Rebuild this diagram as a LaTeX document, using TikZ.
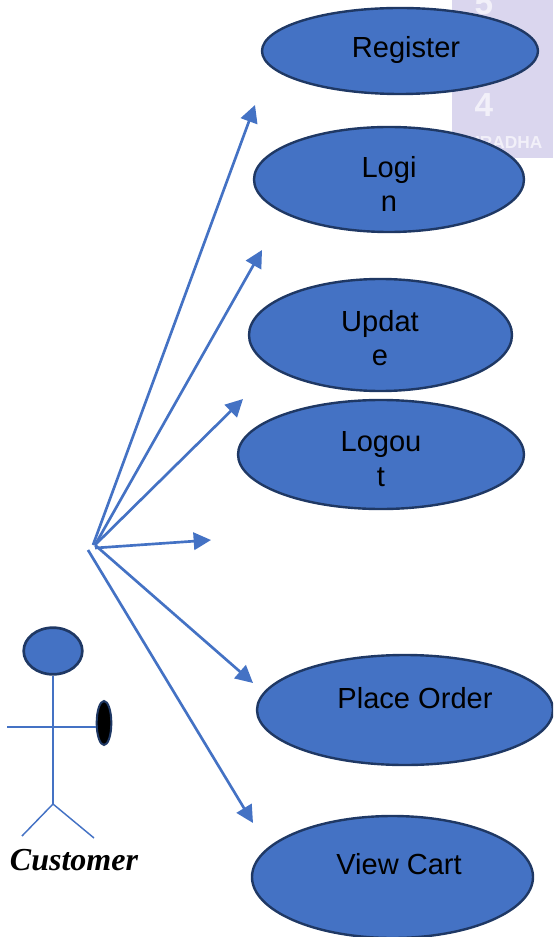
\documentclass[tikz,border=0pt]{standalone}
\usepackage{fontspec}
\setmainfont{Liberation Sans}
\newfontfamily\serifface{Liberation Serif}
\usetikzlibrary{shapes.geometric,arrows.meta}
\definecolor{ublue}{HTML}{4472C4}
\definecolor{uedge}{HTML}{1F3864}
\definecolor{wmark}{HTML}{DAD6EE}
\tikzset{
  x=0.75pt,y=-0.75pt,
  usecase/.style={ellipse,draw=uedge,fill=ublue,line width=1.8pt,inner sep=0pt},
  caption/.style={font=\fontsize{21.8}{26}\selectfont,align=center,text=black,inner sep=0pt},
  assoc/.style={draw=ublue,line width=2pt,-{Triangle[length=13pt,width=13pt]}},
  limb/.style={draw=ublue,line width=1.1pt},
  wtext/.style={text=white,inner sep=0pt,opacity=0.65}
}
\begin{document}
\begin{tikzpicture}
\useasboundingbox (0,0) rectangle (553,937);
\clip (0,0) rectangle (553,937);
% faded background picture
\fill[wmark] (452,0) rectangle (553,158);
\node[wtext,font=\bfseries\fontsize{25}{25}\selectfont] (wfive) at (484,3) {5};
\node[wtext,font=\bfseries\fontsize{25}{25}\selectfont] (wfour) at (484,105) {4};
\node[wtext,font=\bfseries\fontsize{13}{13}\selectfont,anchor=west] (wname) at (467,143) {URADHA};
% use cases
\node[usecase,minimum width=207pt,minimum height=64.5pt] (register) at (400,51) {};
\node[usecase,minimum width=202.5pt,minimum height=78.75pt] (login) at (389,179.5) {};
\node[usecase,minimum width=197.25pt,minimum height=84pt] (update) at (380.5,335) {};
\node[usecase,minimum width=214.5pt,minimum height=81.75pt] (logout) at (381,454.5) {};
\node[usecase,minimum width=222pt,minimum height=82.5pt] (order) at (405,710) {};
\node[usecase,minimum width=210.75pt,minimum height=91.5pt] (cart) at (392.5,877) {};
\node[caption] (registerT) at (406,50) {Register};
\node[caption] (loginT) at (389,184) {Logi\\n};
\node[caption] (updateT) at (380,338) {Updat\\e};
\node[caption] (logoutT) at (381,459) {Logou\\t};
\node[caption] (orderT) at (415,698) {Place Order};
\node[caption] (cartT) at (399,864) {View Cart};
% actor
\node[usecase,line width=2pt,minimum width=44pt,minimum height=35pt] (head) at (53,651) {};
\node[ellipse,draw=uedge,fill=black,line width=1.5pt,inner sep=0pt,minimum width=11pt,minimum height=33pt] (hand) at (104,723) {};
\coordinate (hip) at (53,804);
\coordinate (shoulderL) at (7,727);
\coordinate (footL) at (22,836);
\coordinate (footR) at (94,838);
\draw[limb] (head.south) -- (hip);
\draw[limb] (shoulderL) -- (hand.west |- shoulderL);
\draw[limb] (hip) -- (footL);
\draw[limb] (hip) -- (footR);
\node[font=\serifface\bfseries\itshape\fontsize{24}{28}\selectfont,inner sep=0pt,text=black] (customer) at (74,860) {Customer};
% connectors
\coordinate (o1) at (93,545);
\coordinate (o2) at (95,545);
\coordinate (o3) at (95,548);
\coordinate (o4) at (88,550);
\coordinate (e1) at (255,105);
\coordinate (e2) at (262,250);
\coordinate (e3) at (243,399);
\coordinate (e4) at (211,540);
\coordinate (e5) at (253,683);
\coordinate (e6) at (253,823);
\draw[assoc] (o1) -- (e1);
\draw[assoc] (o2) -- (e2);
\draw[assoc] (o2) -- (e3);
\draw[assoc] (o3) -- (e4);
\draw[assoc] (o2) -- (e5);
\draw[assoc] (o4) -- (e6);
\end{tikzpicture}
\end{document}
